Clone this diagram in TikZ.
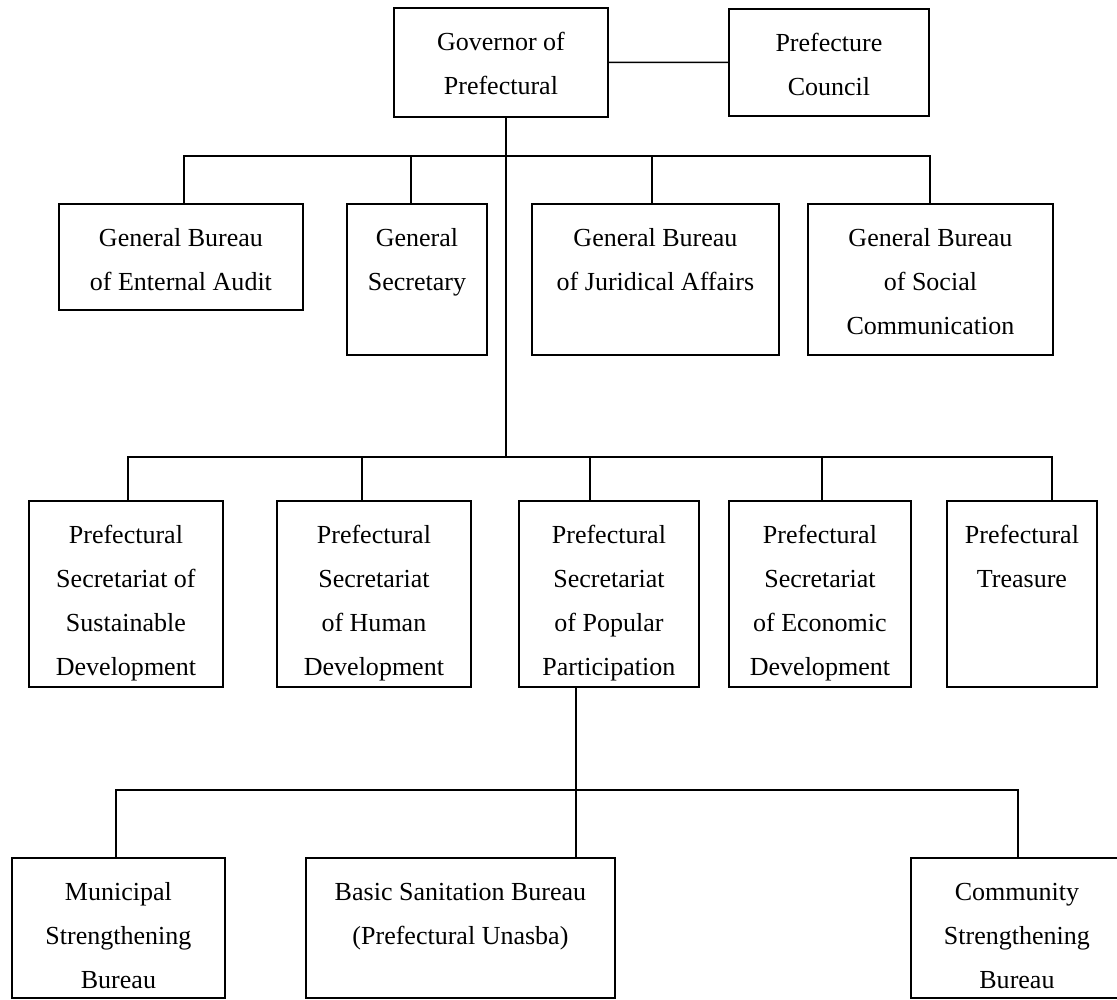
\documentclass[tikz,border=0pt]{standalone}
\usepackage{fontspec}
\setmainfont{Liberation Serif}
\tikzset{
  box/.style={draw=black, line width=1.3pt, inner sep=0pt, anchor=north west,
              font=\fontsize{18.5pt}{31.3pt}\selectfont},
  link/.style={draw=black, line width=1.1pt},
  trunk/.style={draw=black, line width=1.7pt},
}
\newcommand\bx[6]{%
  \pgfmathsetmacro\bxw{(#4-#2)*0.711319}%
  \pgfmathsetmacro\bxh{(#5-#3)*0.711319}%
  \node[box] (#1) at (#2,#3) {\parbox[c][\bxh pt][t]{\bxw pt}{\centering\rule{0pt}{30.6pt}#6}};%
}
\begin{document}
\begin{tikzpicture}[x=0.025cm, y=-0.025cm]
\useasboundingbox (0,0) rectangle (1117,999);
% top level
\bx{gov}{393}{7}{607}{116}{Governor of\\Prefectural}
\bx{cou}{728}{8}{928}{115}{Prefecture\\Council}
% level 1
\bx{aud}{58}{203}{302}{309}{General Bureau\\of Enternal Audit}
\bx{sec}{346}{203}{486}{354}{General\\Secretary}
\bx{jur}{531}{203}{778}{354}{General Bureau\\of Juridical Affairs}
\bx{soc}{807}{203}{1052}{354}{General Bureau\\of Social\\Communication}
% level 2
\bx{sus}{28}{500}{222}{686}{Prefectural\\Secretariat of\\Sustainable\\Development}
\bx{hum}{276}{500}{470}{686}{Prefectural\\Secretariat\\of Human\\Development}
\bx{pop}{518}{500}{698}{686}{Prefectural\\Secretariat\\of Popular\\Participation}
\bx{eco}{728}{500}{910}{686}{Prefectural\\Secretariat\\of Economic\\Development}
\bx{tre}{946}{500}{1096}{686}{Prefectural\\Treasure}
% level 3
\bx{mun}{11}{857}{224}{997}{Municipal\\Strengthening\\Bureau}
\bx{san}{305}{857}{614}{997}{Basic Sanitation Bureau\\(Prefectural Unasba)}
\bx{com}{910}{857}{1122}{997}{Community\\Strengthening\\Bureau}
% governor -- council
\draw[link] (gov.east) -- (cou.west);
% main trunk
\coordinate (j1) at (506,156);
\coordinate (j2) at (506,457);
\draw[trunk] (gov.south -| j1) -- (j2);
% level 1 bus
\coordinate (a1) at (184,156);
\coordinate (a2) at (411,156);
\coordinate (a3) at (652,156);
\coordinate (a4) at (930,156);
\draw[link] (aud.north -| a1) -- (a1) -- (a4) -- (soc.north -| a4);
\draw[link] (a2) -- (sec.north -| a2);
\draw[link] (a3) -- (jur.north -| a3);
% level 2 bus
\coordinate (b1) at (128,457);
\coordinate (b2) at (362,457);
\coordinate (b3) at (590,457);
\coordinate (b4) at (822,457);
\coordinate (b5) at (1052,457);
\draw[link] (sus.north -| b1) -- (b1) -- (b5) -- (tre.north -| b5);
\draw[link] (b2) -- (hum.north -| b2);
\draw[link] (b3) -- (pop.north -| b3);
\draw[link] (b4) -- (eco.north -| b4);
% level 3
\coordinate (c0) at (576,790);
\coordinate (c1) at (116,790);
\coordinate (c2) at (1018,790);
\draw[trunk] (pop.south -| c0) -- (san.north -| c0);
\draw[link] (mun.north -| c1) -- (c1) -- (c2) -- (com.north -| c2);
\end{tikzpicture}
\end{document}
